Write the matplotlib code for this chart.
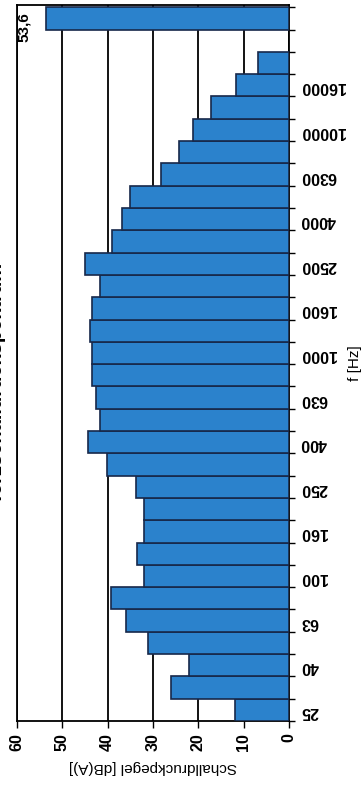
import matplotlib.pyplot as plt
import numpy as np

plt.rcParams['font.family'] = ['Liberation Sans', 'DejaVu Sans']

# Terzbänder und Pegel in dB(A)
bands = ['25', '31,5', '40', '50', '63', '80', '100', '125', '160', '200',
         '250', '315', '400', '500', '630', '800', '1000', '1250', '1600', '2000',
         '2500', '3150', '4000', '5000', '6300', '8000', '10000', '12500', '16000', '20000']
levels = [12.0, 26.0, 22.0, 31.0, 36.0, 39.3, 32.0, 33.5, 32.0, 32.0,
          33.8, 40.1, 44.4, 41.7, 42.6, 43.5, 43.4, 43.9, 43.4, 41.7,
          45.0, 39.0, 36.9, 35.1, 28.3, 24.3, 21.1, 17.3, 11.8, 6.8]
# Summenpegel
total = 53.6
value_ticks = [0, 10, 20, 30, 40, 50, 60]

bar_color = '#2b82cc'
edge_color = '#17284a'

fig = plt.figure(figsize=(3.61, 7.87), dpi=100)
ax = fig.add_axes([16.7 / 361, 66 / 787, 272.6 / 361, 716 / 787])

slots = np.arange(len(levels))
total_slot = len(levels) + 1

ax.barh(slots, levels, height=1.0, color=bar_color, edgecolor=edge_color,
        linewidth=1.2, zorder=3)
ax.barh(total_slot, total, height=1.0, color=bar_color, edgecolor=edge_color,
        linewidth=1.2, zorder=3)
ax.text(total + 3.2, total_slot - 0.4, f'{total:.1f}'.replace('.', ','),
        rotation=90, ha='right', va='center', fontsize=11, fontweight='bold')

# Pegelachse (gedreht): 60 links, 0 rechts
ax.set_xlim(60, 0)
ax.set_ylim(-0.5, total_slot + 0.6)
ax.set_xticks(value_ticks)
ax.grid(axis='x', color='black', linewidth=1.3)
ax.set_axisbelow(True)
ax.tick_params(axis='x', length=5, width=1, pad=4, labelrotation=90, labelsize=11.5)

# Frequenzachse rechts, nur jedes zweite Band beschriftet
ax.yaxis.tick_right()
ax.set_yticks(slots[::2], labels=bands[::2])
ax.set_yticks(np.arange(-0.5, total_slot + 1, 1), minor=True)
ax.tick_params(axis='y', which='major', length=0, pad=8, labelrotation=180, labelsize=11.5)
ax.tick_params(axis='y', which='minor', length=4, width=1, direction='out')
for lbl in ax.get_xticklabels() + ax.get_yticklabels():
    lbl.set_fontweight('bold')

for sp in ax.spines.values():
    sp.set_linewidth(1.3)
    sp.set_color('black')

ax.set_xlabel('Schalldruckpegel [dB(A)]', rotation=180, fontsize=11, labelpad=6)
ax.yaxis.set_label_position('right')
ax.set_ylabel('f [Hz]', fontsize=11)
ax.yaxis.set_label_coords(1.215, 0.5)

# Überschrift am linken Rand, größtenteils abgeschnitten
fig.text(5.8 / 361, 1 - 383 / 787, 'Terzschalldruckspektrum', rotation=90,
         ha='right', va='center', fontsize=14.5, fontweight='bold')

fig.savefig('out.png', dpi=100)
